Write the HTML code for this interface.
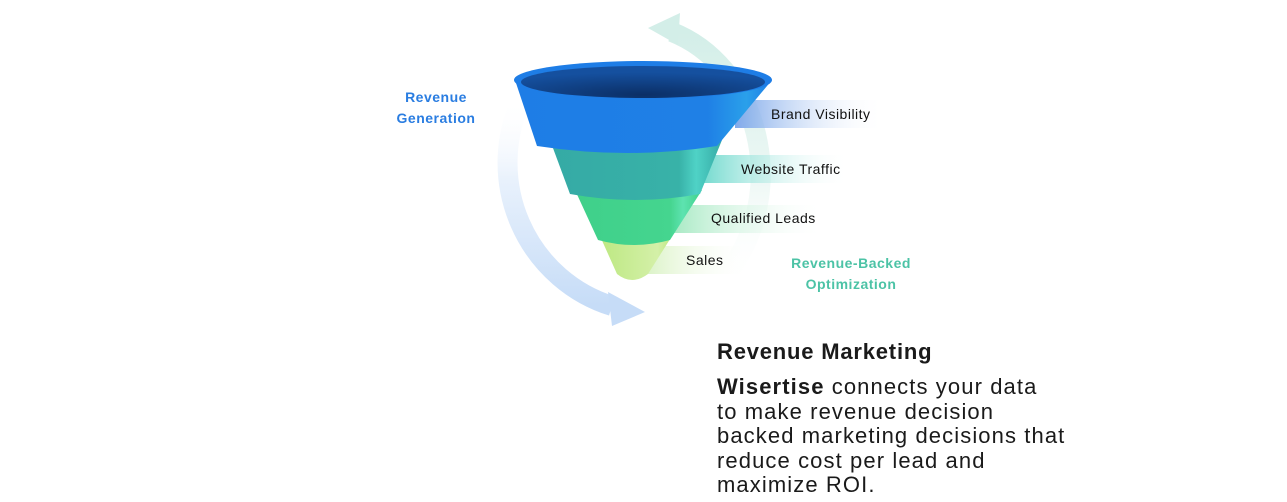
<!DOCTYPE html>
<html><head><meta charset="utf-8"><style>
body{margin:0;background:#fff;width:1287px;height:502px;overflow:hidden;position:relative;font-family:"Liberation Sans",sans-serif}
.t{position:absolute;left:717px;color:#1a1a1a}
</style></head><body>
<svg width="1287" height="502" style="position:absolute;left:0;top:0">
<defs>
<linearGradient id="ba" x1="0" y1="0" x2="0" y2="1"><stop offset="0" stop-color="#fff" stop-opacity="0"/><stop offset="0.4" stop-color="#e8f1fc"/><stop offset="1" stop-color="#c6dcf7"/></linearGradient>
<linearGradient id="ta" x1="0" y1="0" x2="0" y2="1"><stop offset="0" stop-color="#d3eee8"/><stop offset="0.6" stop-color="#eef8f5"/><stop offset="1" stop-color="#fff" stop-opacity="0"/></linearGradient>
<linearGradient id="b1" x1="0" x2="1"><stop offset="0" stop-color="#7fa9ea"/><stop offset="1" stop-color="#fff" stop-opacity="0"/></linearGradient>
<linearGradient id="b2" x1="0" x2="1"><stop offset="0" stop-color="#6fd9cd"/><stop offset="1" stop-color="#fff" stop-opacity="0"/></linearGradient>
<linearGradient id="b3" x1="0" x2="1"><stop offset="0" stop-color="#9ee7bd"/><stop offset="1" stop-color="#fff" stop-opacity="0"/></linearGradient>
<linearGradient id="b4" x1="0" x2="1"><stop offset="0" stop-color="#d6f1bf"/><stop offset="1" stop-color="#fff" stop-opacity="0"/></linearGradient>
<linearGradient id="g1" x1="0" x2="1"><stop offset="0" stop-color="#1e7de6"/><stop offset="0.75" stop-color="#1f80e6"/><stop offset="0.9" stop-color="#2aa0ea"/><stop offset="1" stop-color="#1e7de6"/></linearGradient>
<linearGradient id="g2" x1="0" x2="1"><stop offset="0" stop-color="#35aaa5"/><stop offset="0.75" stop-color="#38b2a8"/><stop offset="0.85" stop-color="#4fd2c6"/><stop offset="1" stop-color="#35aaa5"/></linearGradient>
<linearGradient id="g3" x1="0" x2="1"><stop offset="0" stop-color="#3fd08a"/><stop offset="0.75" stop-color="#45d58f"/><stop offset="0.85" stop-color="#5ee3b0"/><stop offset="1" stop-color="#3fd08a"/></linearGradient>
<linearGradient id="g4" x1="0" x2="1"><stop offset="0" stop-color="#bde882"/><stop offset="0.8" stop-color="#d4f0a8"/><stop offset="1" stop-color="#bde882"/></linearGradient>
<radialGradient id="in" cx="0.5" cy="0.9" r="0.7"><stop offset="0" stop-color="#0b2f66"/><stop offset="1" stop-color="#15509f"/></radialGradient>
</defs>
<path d="M522,98 A148,150 0 0 0 612,306" fill="none" stroke="url(#ba)" stroke-width="20"/>
<polygon points="608,292 645,312 612,326" fill="#c6dcf7"/>
<path d="M672,32 A132,150 0 0 1 720,282" fill="none" stroke="url(#ta)" stroke-width="20"/>
<polygon points="648,28 680,13 678,45" fill="#d3eee8"/>
<rect x="735" y="100" width="150" height="28" fill="url(#b1)"/>
<rect x="700" y="155" width="150" height="28" fill="url(#b2)"/>
<rect x="665" y="205" width="160" height="28" fill="url(#b3)"/>
<rect x="640" y="246" width="110" height="28" fill="url(#b4)"/>
<path d="M600,236 L672,236 L648,274 Q632,286 617,274 Z" fill="url(#g4)"/>
<path d="M575,190 L702,190 L670,240 Q634,250 598,240 Z" fill="url(#g3)"/>
<path d="M550,140 L722,140 L700,194 Q635,206 570,194 Z" fill="url(#g2)"/>
<path d="M515,80 L772,80 L717,146 Q628,160 537,146 Z" fill="url(#g1)"/>
<ellipse cx="643" cy="80" rx="129" ry="19" fill="#1e7de6"/>
<ellipse cx="643" cy="82" rx="122" ry="16" fill="url(#in)"/>
<g font-size="14" fill="#111" letter-spacing="0.5">
<text x="771" y="119">Brand Visibility</text>
<text x="741" y="174">Website Traffic</text>
<text x="711" y="223">Qualified Leads</text>
<text x="686" y="265">Sales</text>
</g>
<g font-size="14" font-weight="bold" text-anchor="middle" letter-spacing="0.5">
<text x="436" y="102" fill="#2a7de1">Revenue</text>
<text x="436" y="123" fill="#2a7de1">Generation</text>
<text x="851" y="268" fill="#4cc3a6">Revenue-Backed</text>
<text x="851" y="289" fill="#4cc3a6">Optimization</text>
</g>
</svg>
<div class="t" style="top:339px;font-size:22px;font-weight:bold;letter-spacing:0.8px">Revenue Marketing</div>
<div class="t" style="top:375px;font-size:22px;line-height:24.5px;letter-spacing:1.1px"><b>Wisertise</b> connects your data<br>to make revenue decision<br>backed marketing decisions that<br>reduce cost per lead and<br>maximize ROI.</div>
</body></html>
